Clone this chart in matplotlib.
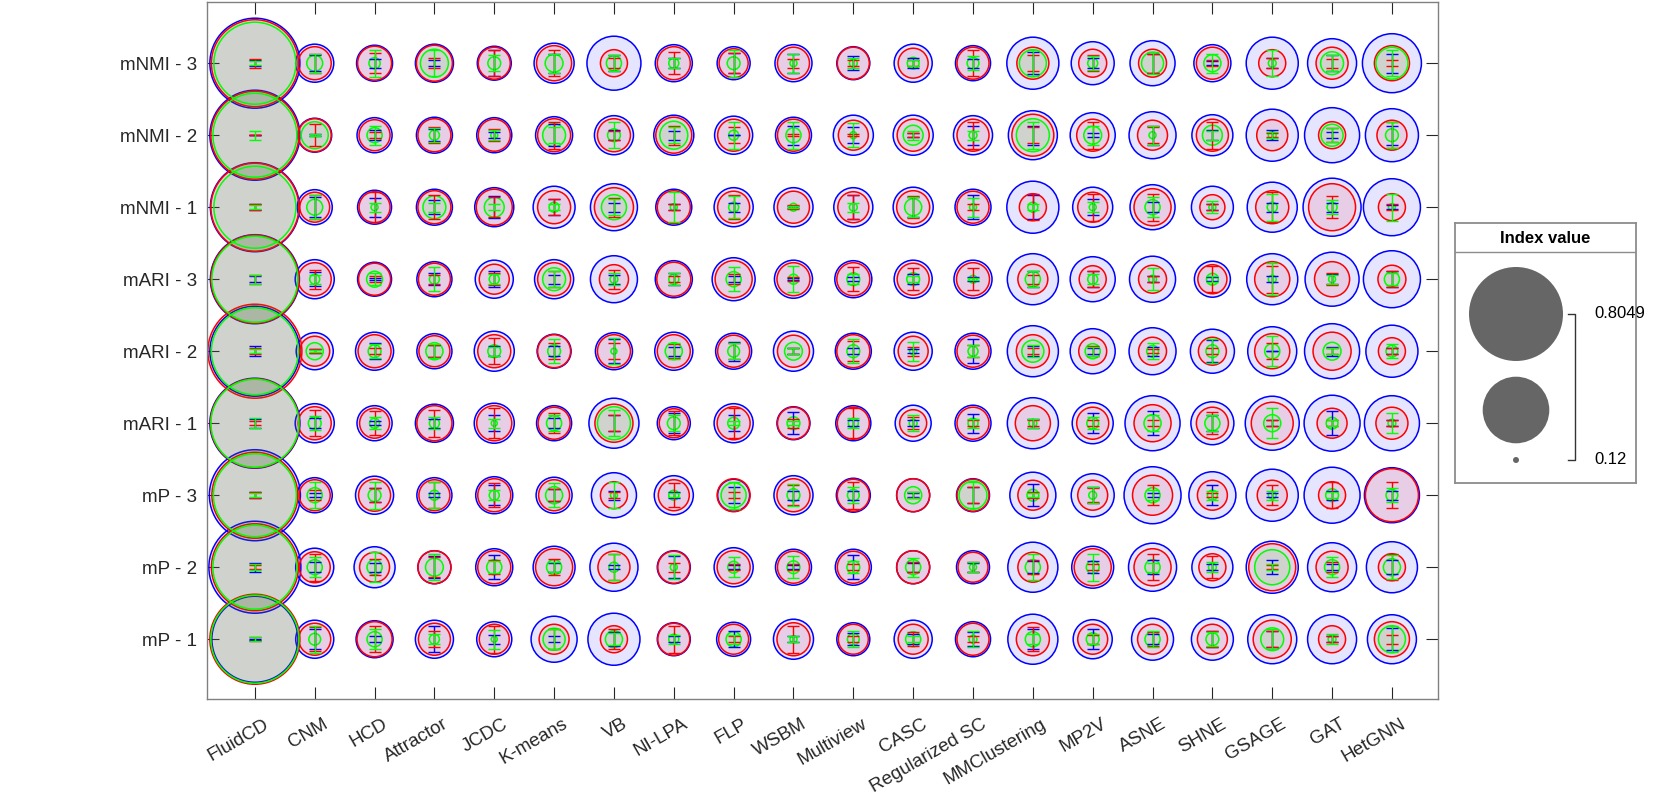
import numpy as np
import matplotlib.pyplot as plt
from matplotlib.colors import to_rgba
from matplotlib.transforms import ScaledTranslation

plt.rcParams['font.family'] = ['Liberation Sans', 'DejaVu Sans']

methods = ['FluidCD', 'CNM', 'HCD', 'Attractor', 'JCDC', 'K-means', 'VB', 'NI-LPA', 'FLP', 'WSBM',
           'Multiview', 'CASC', 'Regularized SC', 'MMClustering', 'MP2V', 'ASNE', 'SHNE', 'GSAGE',
           'GAT', 'HetGNN']
# rows listed top to bottom as they appear in the chart
metrics = ['mNMI - 3', 'mNMI - 2', 'mNMI - 1', 'mARI - 3', 'mARI - 2', 'mARI - 1',
           'mP - 3', 'mP - 2', 'mP - 1']

# index values (bubble size), one list per metric row
idx_blue = [
    [.748, .230, .218, .230, .207, .242, .344, .224, .202, .224, .202, .230, .213, .328, .261, .275, .224, .328, .304, .388],
    [.748, .207, .213, .218, .213, .224, .236, .242, .230, .218, .242, .242, .236, .304, .275, .289, .248, .328, .353, .336],
    [.734, .213, .207, .218, .236, .254, .289, .218, .236, .236, .236, .242, .218, .328, .242, .275, .254, .312, .379, .370],
    [.734, .236, .207, .213, .230, .236, .289, .224, .261, .230, .224, .230, .230, .320, .275, .282, .218, .320, .344, .370],
    [.748, .224, .230, .213, .242, .207, .224, .230, .218, .242, .218, .230, .218, .320, .275, .289, .268, .304, .353, .328],
    [.748, .236, .213, .230, .242, .213, .312, .202, .236, .202, .213, .218, .218, .320, .248, .353, .261, .344, .361, .353],
    [.762, .213, .230, .213, .224, .218, .275, .236, .197, .236, .207, .202, .202, .282, .261, .370, .289, .328, .361, .353],
    [.776, .230, .248, .202, .224, .254, .297, .202, .236, .218, .218, .202, .202, .312, .254, .297, .248, .328, .304, .320],
    [.693, .230, .224, .230, .213, .282, .328, .202, .207, .242, .202, .230, .213, .312, .236, .254, .254, .304, .304, .304],
]
idx_red = [
    [.706, .202, .207, .218, .197, .213, .174, .202, .183, .197, .197, .187, .197, .197, .178, .178, .197, .174, .197, .213],
    [.720, .202, .192, .202, .197, .202, .202, .218, .197, .197, .187, .197, .197, .254, .197, .187, .197, .192, .174, .187],
    [.720, .187, .192, .202, .218, .202, .236, .202, .197, .197, .192, .202, .197, .174, .187, .224, .166, .202, .289, .174],
    [.720, .202, .197, .197, .187, .202, .183, .207, .224, .202, .202, .197, .202, .187, .174, .178, .183, .213, .213, .178],
    [.8049, .187, .202, .192, .202, .202, .202, .202, .197, .197, .202, .187, .197, .202, .178, .178, .178, .213, .230, .174],
    [.734, .202, .187, .213, .213, .197, .230, .183, .202, .197, .197, .174, .197, .213, .197, .224, .197, .254, .187, .197],
    [.693, .192, .197, .192, .202, .192, .174, .192, .202, .202, .197, .202, .197, .187, .187, .242, .187, .187, .174, .336],
    [.706, .192, .187, .202, .202, .224, .197, .197, .202, .197, .197, .202, .187, .187, .224, .224, .174, .289, .197, .174],
    [.748, .197, .213, .197, .187, .187, .174, .197, .187, .202, .187, .187, .197, .202, .187, .187, .187, .230, .174, .213],
]
idx_green = [
    [.641, .137, .127, .178, .130, .142, .135, .125, .130, .121, .122, .128, .128, .174, .125, .155, .140, .122, .158, .197],
    [.666, .174, .135, .125, .121, .158, .130, .178, .125, .135, .121, .148, .122, .202, .142, .121, .148, .122, .155, .130],
    [.641, .137, .121, .158, .148, .125, .166, .121, .125, .122, .122, .140, .121, .125, .121, .135, .121, .125, .125, .121],
    [.693, .125, .137, .125, .125, .158, .122, .125, .135, .125, .130, .130, .122, .135, .125, .122, .128, .122, .121, .135],
    [.706, .140, .130, .140, .130, .130, .120, .140, .128, .142, .130, .121, .125, .155, .135, .128, .130, .135, .142, .128],
    [.720, .130, .125, .125, .120, .135, .202, .130, .128, .130, .125, .122, .125, .122, .128, .140, .135, .140, .128, .122],
    [.653, .135, .130, .125, .125, .140, .121, .125, .166, .130, .128, .140, .178, .128, .122, .135, .125, .122, .130, .128],
    [.666, .135, .135, .142, .135, .135, .125, .121, .128, .130, .130, .135, .121, .135, .130, .135, .122, .213, .135, .140],
    [.720, .128, .135, .125, .120, .155, .140, .125, .135, .121, .128, .135, .122, .135, .130, .135, .130, .158, .122, .174],
]

# error bar half-lengths (y-axis units)
err_blue = [
    [.04, .11, .06, .04, .18, .13, .11, .07, .14, .13, .10, .07, .06, .15, .07, .13, .03, .07, .11, .13],
    [.00, .01, .07, .08, .04, .15, .07, .06, .00, .13, .11, .03, .13, .13, .03, .13, .07, .07, .04, .13],
    [.04, .14, .13, .10, .15, .11, .06, .04, .06, .01, .17, .14, .17, .17, .11, .07, .04, .06, .06, .03],
    [.04, .10, .01, .08, .11, .06, .06, .08, .04, .01, .03, .07, .03, .11, .11, .04, .03, .04, .07, .11],
    [.07, .03, .11, .08, .07, .07, .17, .06, .13, .04, .04, .03, .17, .07, .04, .06, .15, .00, .06, .04],
    [.06, .07, .03, .06, .11, .07, .11, .14, .11, .15, .04, .04, .13, .06, .14, .17, .11, .04, .17, .04],
    [.04, .03, .10, .03, .14, .08, .06, .04, .11, .06, .06, .03, .11, .15, .11, .03, .14, .03, .06, .06],
    [.06, .07, .06, .15, .17, .06, .03, .15, .03, .03, .17, .06, .06, .08, .08, .10, .04, .10, .04, .10],
    [.01, .14, .04, .18, .06, .04, .10, .04, .11, .04, .08, .07, .10, .14, .14, .07, .11, .11, .04, .15],
]
err_red = [
    [.06, .13, .14, .07, .18, .18, .07, .15, .14, .06, .04, .04, .18, .11, .11, .13, .04, .07, .06, .04],
    [.00, .15, .04, .11, .08, .19, .06, .13, .11, .01, .01, .03, .19, .11, .19, .11, .19, .03, .10, .18],
    [.04, .17, .21, .17, .14, .11, .13, .04, .17, .03, .17, .15, .04, .18, .19, .19, .04, .21, .15, .04],
    [.06, .13, .04, .06, .08, .11, .13, .04, .07, .03, .17, .15, .15, .06, .11, .04, .18, .19, .08, .11],
    [.04, .03, .04, .08, .18, .11, .11, .10, .11, .04, .14, .06, .08, .04, .07, .03, .04, .11, .04, .04],
    [.03, .18, .17, .19, .21, .14, .11, .17, .21, .06, .21, .08, .04, .04, .04, .04, .15, .04, .04, .04],
    [.04, .07, .10, .18, .17, .08, .04, .17, .04, .14, .19, .04, .11, .04, .10, .14, .03, .14, .18, .18],
    [.03, .19, .11, .14, .10, .11, .18, .06, .04, .04, .04, .07, .07, .10, .04, .18, .15, .03, .07, .18],
    [.03, .17, .18, .11, .19, .14, .14, .19, .04, .19, .04, .10, .04, .17, .06, .10, .11, .11, .04, .06],
]
err_green = [
    [.03, .13, .19, .18, .11, .13, .11, .07, .19, .13, .07, .04, .10, .18, .10, .15, .13, .18, .11, .18],
    [.06, .01, .13, .10, .07, .11, .18, .11, .19, .19, .17, .06, .06, .19, .13, .13, .06, .04, .10, .18],
    [.03, .17, .06, .06, .04, .04, .11, .21, .15, .01, .06, .14, .13, .04, .07, .14, .08, .19, .10, .19],
    [.06, .06, .08, .17, .07, .11, .08, .08, .17, .18, .07, .04, .01, .11, .07, .15, .04, .22, .06, .08],
    [.03, .01, .10, .10, .06, .17, .18, .11, .11, .04, .17, .13, .08, .08, .06, .11, .17, .21, .04, .10],
    [.07, .10, .08, .08, .06, .11, .18, .11, .03, .03, .07, .11, .06, .06, .08, .11, .11, .21, .04, .14],
    [.03, .18, .19, .18, .07, .17, .18, .03, .19, .15, .11, .04, .18, .03, .11, .07, .06, .06, .04, .10],
    [.04, .14, .21, .18, .08, .07, .18, .17, .14, .15, .08, .13, .07, .18, .19, .06, .07, .04, .14, .17],
    [.03, .19, .14, .07, .13, .14, .08, .06, .06, .04, .11, .04, .11, .07, .07, .11, .10, .14, .07, .18],
]

DPI = 100
D_MIN, D_MAX = 6.0, 94.0  # bubble diameter in pixels for smallest / largest value

all_vals = np.concatenate([np.ravel(idx_blue), np.ravel(idx_red), np.ravel(idx_green)])
v_min, v_max = all_vals.min(), all_vals.max()


def bubble_area(v):
    # bubble area grows linearly with the index value
    d = np.sqrt(D_MIN**2 + (np.asarray(v) - v_min) / (v_max - v_min) * (D_MAX**2 - D_MIN**2))
    return (d * 72.0 / DPI) ** 2


fig = plt.figure(figsize=(16.61, 7.96), dpi=DPI)
ax = fig.add_axes([207/1661, 97/796, 1231/1661, 697/796])

n_rows, n_cols = len(metrics), len(methods)
xx, yy = np.meshgrid(np.arange(1, n_cols + 1), np.arange(n_rows, 0, -1))

series = [(idx_blue, err_blue, '#0000ff'),
          (idx_red, err_red, '#ff0000'),
          (idx_green, err_green, '#00ff00')]

for vals, errs, c in series:
    ax.scatter(xx.ravel(), yy.ravel(), s=bubble_area(np.ravel(vals)),
               facecolors=[to_rgba(c, 0.1)], edgecolors=c, linewidths=1.1, zorder=2)
for vals, errs, c in series:
    ax.errorbar(xx.ravel(), yy.ravel(), yerr=np.ravel(errs), fmt='none', ecolor=c,
                elinewidth=1.0, capsize=4.3, capthick=1.0, zorder=3)

ax.set_xlim(0.2, 20.77)
ax.set_ylim(0.17, 9.85)
ax.set_xticks(np.arange(1, n_cols + 1))
ax.set_xticklabels(methods, rotation=30, ha='right', va='top', rotation_mode='anchor',
                   fontsize=13.5, color='#262626')
ax.set_yticks(yy[:, 0])
ax.set_yticklabels(metrics, fontsize=13.5, color='#262626')
ax.tick_params(axis='both', direction='in', length=8.6, width=0.8, color='#262626',
               top=True, right=True)
ax.tick_params(axis='x', pad=12)
ax.tick_params(axis='y', pad=7)
shift = ScaledTranslation(8 / DPI, 0, fig.dpi_scale_trans)
for lab in ax.get_xticklabels():
    lab.set_transform(lab.get_transform() + shift)
for sp in ax.spines.values():
    sp.set_color('#808080')
    sp.set_linewidth(1.0)

# bubble size legend
lax = fig.add_axes([1455/1661, 313/796, 181/1661, 260/796])
lax.set_xlim(0, 181)
lax.set_ylim(260, 0)
lax.set_xticks([])
lax.set_yticks([])
for sp in lax.spines.values():
    sp.set_color('#8c8c8c')
    sp.set_linewidth(1.3)
lax.text(90.5, 16, 'Index value', ha='center', va='center', fontsize=12, fontweight='bold')
lax.plot([0, 181], [29, 29], color='#8c8c8c', lw=1.0)
leg_vals = [v_max, (v_max + v_min) / 2, v_min]
leg_y = [91, 187, 237]
lax.scatter([61] * 3, leg_y, s=bubble_area(leg_vals), color='#666666', linewidths=0)
lax.plot([113, 120, 120, 113], [leg_y[0], leg_y[0], leg_y[2], leg_y[2]], color='#333333', lw=1.0)
lax.text(139, leg_y[0], f'{v_max:.4f}', ha='left', va='center', fontsize=12)
lax.text(139, leg_y[2], f'{v_min:.2f}', ha='left', va='center', fontsize=12)

fig.savefig('out.png', dpi=DPI)
